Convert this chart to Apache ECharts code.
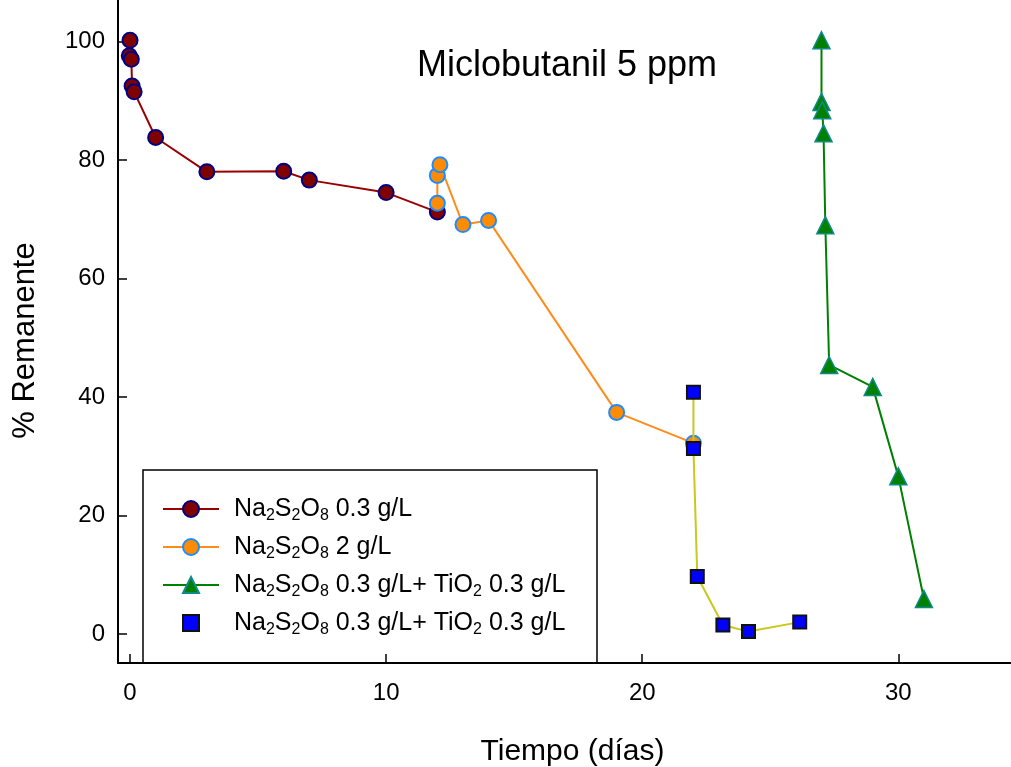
<!DOCTYPE html>
<html><head><meta charset="utf-8">
<script src="https://cdn.jsdelivr.net/npm/echarts@6/dist/echarts.min.js"></script>
<style>html,body{margin:0;padding:0;background:#fff}#c{width:1011px;height:767px}</style>
</head><body><div id="c"></div>
<script>
// Data
const s1X = [0, -0.03, 0.05, 0.08, 0.16, 1, 3, 6, 7, 10, 12];
const s1Y = [100.2, 97.6, 97.0, 92.5, 91.5, 83.8, 78.0, 78.1, 76.6, 74.5, 71.2];
const s2X = [12, 12, 12.1, 13, 14, 19, 22];
const s2Y = [72.7, 77.4, 79.2, 69.1, 69.8, 37.4, 32.2];
const s3X = [27, 27, 27.03, 27.08, 27.15, 27.3, 29, 30, 31];
const s3Y = [100.2, 89.8, 88.4, 84.5, 69.0, 45.4, 41.7, 26.6, 5.9];
const s4X = [22, 22, 22.15, 23.15, 24.15, 26.15];
const s4Y = [40.8, 31.3, 9.7, 1.5, 0.4, 2.0];
const xTicks = [0, 10, 20, 30];
const yTicks = [0, 20, 40, 60, 80, 100];
const legendRich = {
  s1: '{n|Na}{s|2}{n|S}{s|2}{n|O}{s|8}{n| 0.3 g/L}',
  s2: '{n|Na}{s|2}{n|S}{s|2}{n|O}{s|8}{n| 2 g/L}',
  s3: '{n|Na}{s|2}{n|S}{s|2}{n|O}{s|8}{n| 0.3 g/L+ TiO}{s|2}{n| 0.3 g/L}',
  s4: '{n|Na}{s|2}{n|S}{s|2}{n|O}{s|8}{n| 0.3 g/L+ TiO}{s|2}{n| 0.3 g/L}'
};
const title = 'Miclobutanil 5 ppm';
const xName = 'Tiempo (días)';
const yName = '% Remanente';

const zip = (a, b) => a.map((v, i) => [v, b[i]]);
const F = 'Arial, "Liberation Sans", sans-serif';

const chart = echarts.init(document.getElementById('c'), null, {renderer: 'canvas'});
chart.setOption({
  animation: false,
  backgroundColor: '#fff',
  title: {text: title, left: 562, top: 43, textAlign: 'center',
    textStyle: {fontFamily: F, fontSize: 36, fontWeight: 'normal', color: '#000'}},
  grid: {left: 118, right: 0, top: 0, bottom: 104, containLabel: false, outerBoundsMode: 'none'},
  xAxis: {
    type: 'value', min: -0.47, max: 34.4,
    name: xName, nameLocation: 'middle', nameGap: 74,
    nameTextStyle: {fontFamily: F, fontSize: 30, color: '#000', padding: [0, 0, 0, 16]},
    axisLine: {show: true, onZero: false, lineStyle: {color: '#000', width: 2}},
    axisTick: {show: true, inside: true, length: 9, customValues: xTicks, lineStyle: {color: '#000', width: 1.5}},
    axisLabel: {customValues: xTicks, fontFamily: F, fontSize: 24, color: '#000', margin: 18},
    splitLine: {show: false}
  },
  yAxis: {
    type: 'value', min: -4.9, max: 107,
    name: yName, nameLocation: 'middle', nameGap: 77, nameRotate: 90,
    nameTextStyle: {fontFamily: F, fontSize: 31, color: '#000', padding: [0, 18, 0, 0]},
    axisLine: {show: true, onZero: false, lineStyle: {color: '#000', width: 2}},
    axisTick: {show: true, inside: true, length: 9, customValues: yTicks, lineStyle: {color: '#000', width: 1.5}},
    axisLabel: {customValues: yTicks, fontFamily: F, fontSize: 24, color: '#000', margin: 13},
    splitLine: {show: false}
  },
  legend: {
    orient: 'vertical', left: 157, top: 489, itemWidth: 56, itemHeight: 20, itemGap: 8,
    data: [{name: 's1'}, {name: 's2'}, {name: 's3'}, {name: 's4', lineStyle: {width: 0, opacity: 0}}],
    formatter: n => legendRich[n],
    textStyle: {
      fontFamily: F, color: '#000', padding: [0, 0, 0, 10],
      rich: {
        n: {fontFamily: F, fontSize: 25, color: '#000', lineHeight: 24},
        s: {fontFamily: F, fontSize: 16, color: '#000', lineHeight: 14, padding: [14, 0, 0, 0]}
      }
    }
  },
  graphic: [{type: 'rect', shape: {x: 143, y: 470, width: 454, height: 193}, z: -1,
    style: {fill: 'none', stroke: '#000', lineWidth: 1.5}}],
  series: [
    {name: 's1', type: 'line', data: zip(s1X, s1Y), symbol: 'circle', symbolSize: 15, z: 2,
      lineStyle: {color: '#990000', width: 2}, itemStyle: {color: '#800000', borderColor: '#000080', borderWidth: 2}},
    {name: 's2', type: 'line', data: zip(s2X, s2Y), symbol: 'circle', symbolSize: 15, z: 3,
      lineStyle: {color: '#ff8c1a', width: 2}, itemStyle: {color: '#ff8c00', borderColor: '#1e8cff', borderWidth: 2}},
    {name: 's3', type: 'line', data: zip(s3X, s3Y), symbol: 'triangle', symbolSize: 17, z: 3,
      lineStyle: {color: '#008000', width: 2}, itemStyle: {color: '#008000', borderColor: '#0f8a8a', borderWidth: 1.5}},
    {name: 's4', type: 'line', data: zip(s4X, s4Y), symbol: 'rect', symbolSize: 13, z: 4,
      lineStyle: {color: '#c8c81e', width: 2}, itemStyle: {color: '#0000ff', borderColor: '#111', borderWidth: 2}}
  ]
});
</script></body></html>
